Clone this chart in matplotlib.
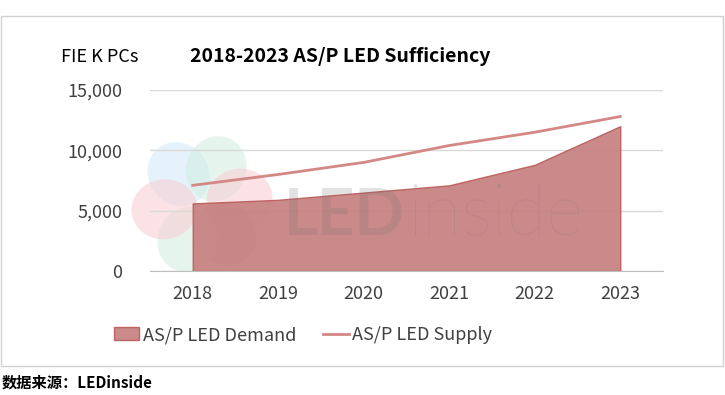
import numpy as np
import matplotlib.pyplot as plt
from matplotlib.patches import Ellipse, Rectangle

plt.rcParams['font.family'] = ['Noto Sans CJK SC', 'DejaVu Sans']

years = ['2018', '2019', '2020', '2021', '2022', '2023']
demand = [5600, 5900, 6500, 7100, 8800, 12000]
supply = [7100, 8000, 9000, 10400, 11500, 12800]
yticks = [0, 5000, 10000, 15000]

fig = plt.figure(figsize=(7.25, 3.95), dpi=100)

# outer frame of the chart
fig.patches.append(Rectangle((0.002, 1 - 366 / 395), 0.995, 350 / 395,
                             transform=fig.transFigure, fill=False,
                             edgecolor='#d0d0d0', lw=1))

# watermark layer in pixel coords, under the chart
wm = fig.add_axes([0, 0, 1, 1], zorder=0)
wm.set_xlim(0, 725)
wm.set_ylim(395, 0)
wm.axis('off')
petal_cols = ['#d3e8f8', '#d0eedf', '#f8ccd0', '#c9c0dc', '#d0eedf', '#f8ccd0']
for i, c in enumerate(petal_cols):
    a = np.deg2rad(-128 + i * 60)
    cx, cy = 202 + 38 * np.cos(a), 204 + 38 * np.sin(a)
    wm.add_patch(Ellipse((cx, cy), 66, 60, angle=np.rad2deg(a),
                         color=c, alpha=0.55, lw=0))

ax = fig.add_axes([150 / 725, 1 - 271 / 395, 513 / 725, 181 / 395], zorder=1)
ax.patch.set_alpha(0)
x = np.arange(len(years))

ax.fill_between(x, demand, 0, color='#c6807f', edgecolor='#bb5d5b', lw=1,
                alpha=0.92, zorder=2, label='AS/P LED Demand')
ax.plot(x, supply, color='#d48886', lw=2, zorder=3, label='AS/P LED Supply')

ax.set_xlim(-0.5, 5.5)
ax.set_ylim(0, 15000)
ax.set_xticks(x)
ax.set_xticklabels(years)
ax.set_yticks(yticks)
ax.set_yticklabels(['{:,}'.format(v) for v in yticks])
ax.tick_params(length=0, labelsize=13, labelcolor='#404040', pad=10)
ax.tick_params(axis='y', pad=20)
ax.grid(axis='y', color='#d9d9d9', lw=1, zorder=0)
ax.set_axisbelow(True)
for s in ['top', 'right', 'left']:
    ax.spines[s].set_visible(False)
ax.spines['bottom'].set_color('#bfbfbf')

# LEDinside watermark text
wm2 = fig.add_axes([0, 0, 1, 1], zorder=2)
wm2.set_xlim(0, 725)
wm2.set_ylim(395, 0)
wm2.axis('off')
wm2.text(284, 235, 'LED', fontsize=47, fontweight='bold', color='#707070',
         alpha=0.2, ha='left', va='baseline', family='Lato')
wm2.text(408, 235, 'inside', fontsize=52, fontweight='light', color='#707070',
         alpha=0.2, ha='left', va='baseline', family='Lato')

fig.text(100 / 725, 1 - 57 / 395, 'FIE K PCs', fontsize=13, ha='center', va='center')
fig.text(340 / 725, 1 - 57 / 395, '2018-2023 AS/P LED Sufficiency', fontsize=14,
         fontweight='bold', ha='center', va='center')

ax.legend(loc='center', bbox_to_anchor=(303 / 725, 1 - 335 / 395),
          bbox_transform=fig.transFigure, ncol=2, frameon=False, fontsize=13,
          handlelength=1.4, handletextpad=0.2, columnspacing=1.5,
          labelcolor='#404040')

fig.text(2 / 725, 1 - 383 / 395, '数据来源：LEDinside', fontsize=11,
         fontweight='bold', ha='left', va='center')

fig.savefig('out.png', dpi=100)
